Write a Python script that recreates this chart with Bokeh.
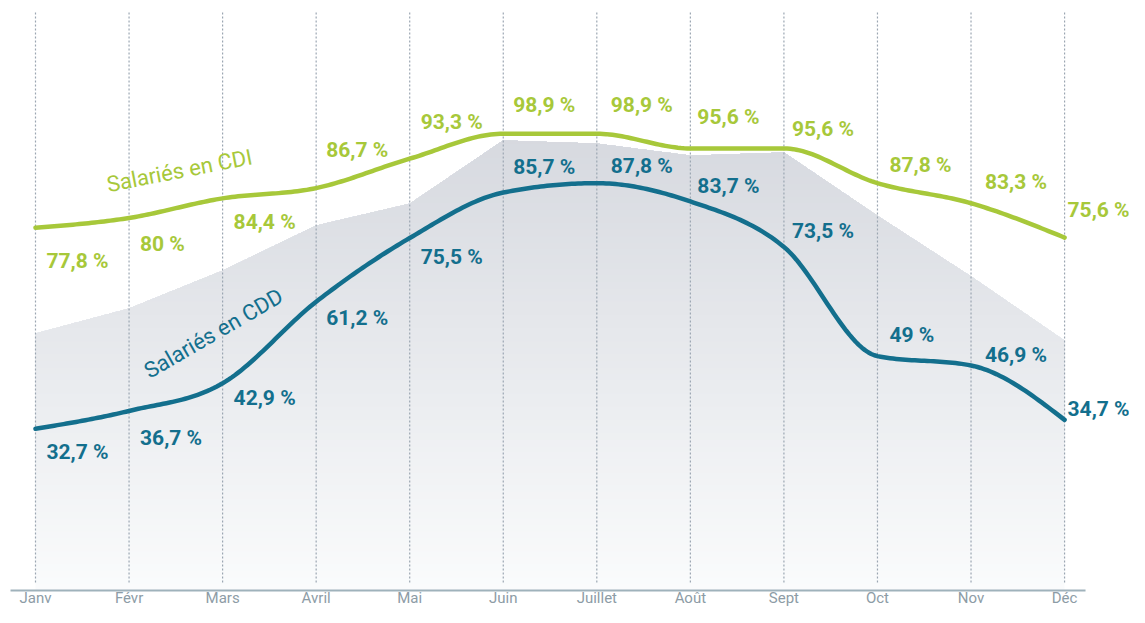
import numpy as np
from bokeh.plotting import figure
from bokeh.models import ColumnDataSource, Range1d
from bokeh.core.properties import value
from bokeh.embed import file_html
from bokeh.resources import INLINE

# ---------------- data ----------------
months = ["Janv", "Févr", "Mars", "Avril", "Mai", "Juin", "Juillet", "Août",
          "Sept", "Oct", "Nov", "Déc"]
cdi = [77.8, 80, 84.4, 86.7, 93.3, 98.9, 98.9, 95.6, 95.6, 87.8, 83.3, 75.6]
cdd = [32.7, 36.7, 42.9, 61.2, 75.5, 85.7, 87.8, 83.7, 73.5, 49, 46.9, 34.7]
background = [54.1, 59.7, 68.2, 78.3, 83.2, 97.4, 96.7, 94.0, 94.7, 80.5, 66.9, 52.5]
cdi_labels = ["77,8 %", "80 %", "84,4 %", "86,7 %", "93,3 %", "98,9 %", "98,9 %",
              "95,6 %", "95,6 %", "87,8 %", "83,3 %", "75,6 %"]
cdd_labels = ["32,7 %", "36,7 %", "42,9 %", "61,2 %", "75,5 %", "85,7 %", "87,8 %",
              "83,7 %", "73,5 %", "49 %", "46,9 %", "34,7 %"]

# ---------------- label placement (pixels) ----------------
lab_dx = [11, 11, 11, 10, 11, 10, 14, 7, 8, 12, 14, 3]
cdi_dy = [33, 26, 24, -38, -37, -29, -29, -31, -19, -18, -21, -28]
cdd_dy = [23, 27, 15, 16, 19, -26, -17, -15, -16, -21, -10, -11]

GREEN = "#a7c83a"
TEAL = "#136f8d"
GRID = "#9ba6b2"
MONTH_COL = "#8d9ca6"
AXIS_COL = "#9fb2bb"
FONT = "Roboto"

xs = np.arange(len(months), dtype=float)


def monotone(x, y, n=30):
    x = np.asarray(x, float)
    y = np.asarray(y, float)
    h = np.diff(x)
    s = np.diff(y) / h
    m = np.zeros_like(y)
    for i in range(1, len(y) - 1):
        s0, s1 = s[i - 1], s[i]
        p = (s0 * h[i] + s1 * h[i - 1]) / (h[i - 1] + h[i])
        m[i] = (np.sign(s0) + np.sign(s1)) * min(abs(s0), abs(s1), 0.5 * abs(p))
    m[0] = (3 * s[0] - m[1]) / 2
    m[-1] = (3 * s[-1] - m[-2]) / 2
    ox, oy = [], []
    for i in range(len(x) - 1):
        t = np.linspace(0, 1, n, endpoint=(i == len(x) - 2))
        h00 = 2 * t**3 - 3 * t**2 + 1
        h10 = t**3 - 2 * t**2 + t
        h01 = -2 * t**3 + 3 * t**2
        h11 = t**3 - t**2
        ox.extend(x[i] + t * h[i])
        oy.extend(h00 * y[i] + h10 * h[i] * m[i] + h01 * y[i + 1] + h11 * h[i] * m[i + 1])
    return np.array(ox), np.array(oy)


W, H = 1129, 607
p = figure(width=W, height=H, output_backend="svg", toolbar_location=None,
           x_range=Range1d(-0.3741, 11.694), y_range=Range1d(-7.40, 128.79),
           min_border=0, min_border_left=0, min_border_right=0,
           min_border_top=0, min_border_bottom=0)
p.axis.visible = False
p.grid.visible = False
p.outline_line_color = None
p.background_fill_color = "white"
p.border_fill_color = "white"

AXIS_Y = -3.6

# gradient background area
dense_x = np.linspace(0, len(months) - 1, 600)
dense_y = np.interp(dense_x, xs, background)
levels = np.linspace(AXIS_Y, 98, 70)
top_c = np.array([214, 217, 223])
bot_c = np.array([250, 251, 252])
for k, lv in enumerate(levels):
    f = k / (len(levels) - 1)
    c = (bot_c + (top_c - bot_c) * f).round().astype(int)
    col = "#%02x%02x%02x" % tuple(c)
    p.varea(x=dense_x, y1=np.maximum(dense_y, lv), y2=lv, fill_color=col)

# dotted vertical gridlines
p.segment(x0=xs, x1=xs, y0=[-1.8] * len(xs), y1=[126.1] * len(xs),
          line_color=GRID, line_width=1.2, line_dash="2 2")

# axis line
p.segment(x0=[-0.267], x1=[11.224], y0=[AXIS_Y], y1=[AXIS_Y],
          line_color=AXIS_COL, line_width=2)

# month labels
p.text(x=xs, y=[AXIS_Y] * len(xs), text=months, text_align="center",
       text_baseline="bottom", y_offset=16, text_color=MONTH_COL,
       text_font=value(FONT), text_font_size="15px")

# series lines
cx, cy = monotone(xs, cdi)
p.line(cx, cy, line_color=GREEN, line_width=4.5, line_cap="round", line_join="round")
dx_, dy_ = monotone(xs, cdd)
p.line(dx_, dy_, line_color=TEAL, line_width=4.5, line_cap="round", line_join="round")

# value labels
src_cdi = ColumnDataSource(dict(x=xs, y=cdi, t=cdi_labels, dx=lab_dx, dy=cdi_dy))
src_cdd = ColumnDataSource(dict(x=xs, y=cdd, t=cdd_labels, dx=lab_dx, dy=cdd_dy))
p.text(x="x", y="y", text="t", x_offset="dx", y_offset="dy", source=src_cdi,
       text_color=GREEN, text_font=value(FONT), text_font_style="bold",
       text_font_size="21px", text_align="left", text_baseline="middle")
p.text(x="x", y="y", text="t", x_offset="dx", y_offset="dy", source=src_cdd,
       text_color=TEAL, text_font=value(FONT), text_font_style="bold",
       text_font_size="21px", text_align="left", text_baseline="middle")

# series names
p.text(x=[1.539], y=[90.6], text=["Salariés en CDI"], angle=np.deg2rad(11),
       text_color=GREEN, text_font=value(FONT), text_font_size="22px",
       text_align="center", text_baseline="middle")
p.text(x=[1.903], y=[54.1], text=["Salariés en CDD"], angle=np.deg2rad(30),
       text_color=TEAL, text_font=value(FONT), text_font_size="22px",
       text_align="center", text_baseline="middle")

open("out.html", "w").write(file_html(p, INLINE))
